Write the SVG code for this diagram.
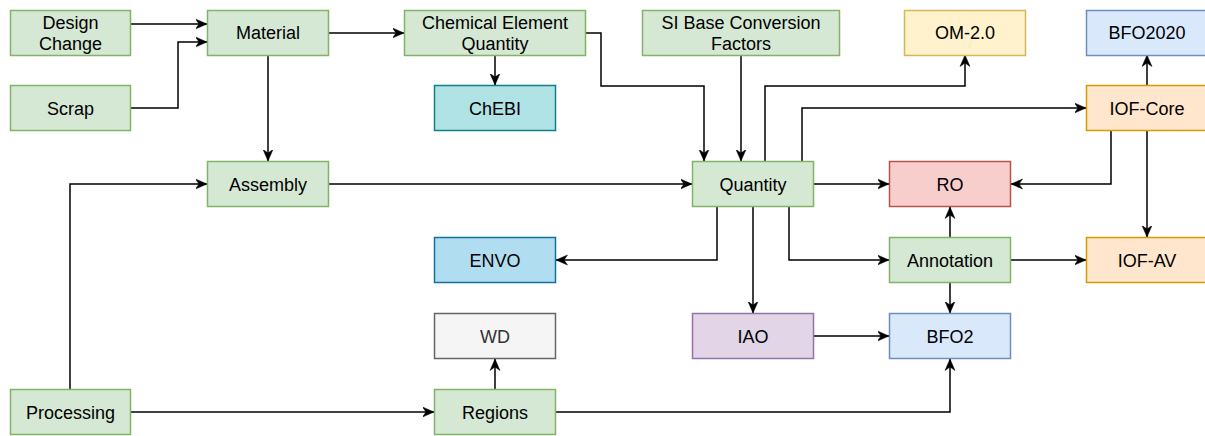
<svg xmlns="http://www.w3.org/2000/svg" width="1205" height="436" viewBox="0 0 1205 436">
  <style>
    .node rect { stroke-width: 1.5; }
    .node text { font-family: "Liberation Sans", Arial, Helvetica, sans-serif; font-size: 18px; text-anchor: middle; fill: #000000; }
    .green rect { fill: #d5e8d4; stroke: #82b366; }
    .teal rect { fill: #b0e3e6; stroke: #0e8088; }
    .sky rect { fill: #b1ddf0; stroke: #10739e; }
    .grey rect { fill: #f5f5f5; stroke: #666666; }
    .grey text { fill: #333333; }
    .purple rect { fill: #e1d5e7; stroke: #9673a6; }
    .blue rect { fill: #dae8fc; stroke: #6c8ebf; }
    .red rect { fill: #f8cecc; stroke: #b85450; }
    .yellow rect { fill: #fff2cc; stroke: #d6b656; }
    .orange rect { fill: #ffe6cc; stroke: #d79b00; }
    #edges path { fill: none; stroke: #000000; stroke-width: 1.5; marker-end: url(#arrow); }
  </style>
  <defs>
    <!-- classic notched arrowhead, tip placed on the path end -->
    <marker id="arrow" markerUnits="userSpaceOnUse" viewBox="0 0 12 12" markerWidth="12" markerHeight="12" refX="11.5" refY="6" orient="auto">
      <path d="M0,1 L11.5,6 L0,11 L3.5,6 Z" fill="#000000" stroke="#000000" stroke-width="0.5" stroke-linejoin="miter"/>
    </marker>
  </defs>

  <rect width="1205" height="436" fill="#ffffff"/>

  <!-- connectors -->
  <g id="edges">
    <path d="M131,24 H207"/>
    <path d="M131,108 H178 V42 H207"/>
    <path d="M329,33 H404"/>
    <path d="M268,55 V161"/>
    <path d="M70,389 V184 H207"/>
    <path d="M495,55 V85"/>
    <path d="M586,33 H601 V86 H704 V161"/>
    <path d="M741,55 V161"/>
    <path d="M329,184 H692"/>
    <path d="M765,161 V86 H965 V55"/>
    <path d="M802,161 V108 H1086"/>
    <path d="M814,184 H889"/>
    <path d="M1111,131 V184 H1011"/>
    <path d="M1147,85 V55"/>
    <path d="M1147,131 V237"/>
    <path d="M717,207 V260 H556"/>
    <path d="M753,207 V313"/>
    <path d="M789,207 V260 H889"/>
    <path d="M950,237 V207"/>
    <path d="M1011,260 H1086"/>
    <path d="M950,283 V313"/>
    <path d="M814,336 H889"/>
    <path d="M131,412 H434"/>
    <path d="M495,389 V359"/>
    <path d="M556,412 H950 V359"/>
  </g>

  <!-- nodes -->
  <g id="n-design" class="node green">
    <rect x="10.5" y="10.5" width="120" height="45"/>
    <text x="70.5" y="28.5">Design</text>
    <text x="70.5" y="50">Change</text>
  </g>
  <g id="n-scrap" class="node green">
    <rect x="10.5" y="85.5" width="120" height="45"/>
    <text x="70.5" y="114.5">Scrap</text>
  </g>
  <g id="n-processing" class="node green">
    <rect x="10.5" y="389.5" width="120" height="45"/>
    <text x="70.5" y="418.5">Processing</text>
  </g>
  <g id="n-material" class="node green">
    <rect x="207.5" y="10.5" width="121" height="45"/>
    <text x="268" y="39">Material</text>
  </g>
  <g id="n-assembly" class="node green">
    <rect x="207.5" y="161.5" width="121" height="45"/>
    <text x="268" y="190.5">Assembly</text>
  </g>
  <g id="n-chem" class="node green">
    <rect x="404.5" y="10.5" width="181" height="45"/>
    <text x="495" y="28.5">Chemical Element</text>
    <text x="495" y="50">Quantity</text>
  </g>
  <g id="n-chebi" class="node teal">
    <rect x="434.5" y="85.5" width="121" height="45"/>
    <text x="495" y="114.5">ChEBI</text>
  </g>
  <g id="n-envo" class="node sky">
    <rect x="434.5" y="237.5" width="121" height="45"/>
    <text x="495" y="266.5">ENVO</text>
  </g>
  <g id="n-wd" class="node grey">
    <rect x="434.5" y="313.5" width="121" height="45"/>
    <text x="495" y="342.5">WD</text>
  </g>
  <g id="n-regions" class="node green">
    <rect x="434.5" y="389.5" width="121" height="45"/>
    <text x="495" y="418.5">Regions</text>
  </g>
  <g id="n-si" class="node green">
    <rect x="642.5" y="10.5" width="197" height="45"/>
    <text x="741" y="28.5">SI Base Conversion</text>
    <text x="741" y="50">Factors</text>
  </g>
  <g id="n-quantity" class="node green">
    <rect x="692.5" y="161.5" width="121" height="45"/>
    <text x="753" y="190.5">Quantity</text>
  </g>
  <g id="n-iao" class="node purple">
    <rect x="692.5" y="313.5" width="121" height="45"/>
    <text x="753" y="342.5">IAO</text>
  </g>
  <g id="n-ro" class="node red">
    <rect x="889.5" y="161.5" width="121" height="45"/>
    <text x="950" y="190.5">RO</text>
  </g>
  <g id="n-annotation" class="node green">
    <rect x="889.5" y="237.5" width="121" height="45"/>
    <text x="950" y="266.5">Annotation</text>
  </g>
  <g id="n-bfo2" class="node blue">
    <rect x="889.5" y="313.5" width="121" height="45"/>
    <text x="950" y="342.5">BFO2</text>
  </g>
  <g id="n-om" class="node yellow">
    <rect x="904.5" y="10.5" width="121" height="45"/>
    <text x="965" y="39">OM-2.0</text>
  </g>
  <g id="n-bfo2020" class="node blue">
    <rect x="1086.5" y="10.5" width="121" height="45"/>
    <text x="1147" y="39">BFO2020</text>
  </g>
  <g id="n-iofcore" class="node orange">
    <rect x="1086.5" y="85.5" width="121" height="45"/>
    <text x="1147" y="114.5">IOF-Core</text>
  </g>
  <g id="n-iofav" class="node orange">
    <rect x="1086.5" y="237.5" width="121" height="45"/>
    <text x="1147" y="266.5">IOF-AV</text>
  </g>
</svg>
